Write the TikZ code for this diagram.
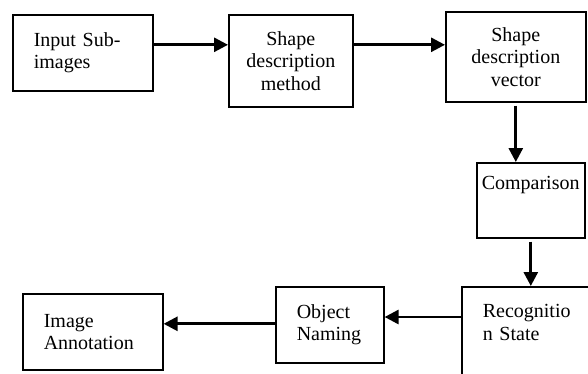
\documentclass[tikz,border=0pt]{standalone}
\usepackage{fontspec}
\setmainfont{Liberation Serif}
\usetikzlibrary{arrows.meta,positioning}

\begin{document}
\begin{tikzpicture}[x=1pt,y=-1pt,
  box/.style={draw,line width=1.6pt,font=\fontsize{20pt}{22.5pt}\selectfont,inner ysep=0pt,anchor=north west},
  arr/.style={line width=2.8pt,-{Triangle[length=14pt,width=14pt]}}]
  \clip (0,0) rectangle (588,373);
  \node[box,text width=98pt,inner xsep=21pt,minimum height=76pt,align=left] (input) at (12,14) {Input Sub-\\images};
  \node[box,text width=104pt,inner xsep=10pt,minimum height=92pt,align=center] (method) at (228,14) {Shape\\description\\method};
  \node[box,text width=120pt,inner xsep=10pt,minimum height=90pt,align=center] (vector) at (445,11) {Shape\\description\\vector};
  \node[box,text width=98pt,inner xsep=5pt,inner ysep=6pt,text height=21pt,text depth=42pt,align=left] (cmp) at (476,162) {Comparison};
  \node[box,text width=100pt,inner xsep=21pt,inner ysep=6pt,text height=25pt,text depth=77pt,align=left] (recog) at (461,286) {Recognitio\\n State};
  \node[box,text width=66pt,inner xsep=21pt,minimum height=76pt,align=left] (naming) at (275,286) {Object\\Naming};
  \node[box,text width=98pt,inner xsep=21pt,minimum height=76pt,align=left] (annot) at (22,293) {Image\\Annotation};

  \draw[arr] ([yshift=8pt]input.east) -- ([yshift=8pt]input.east -| method.west);
  \draw[arr] ([yshift=16pt]method.east) -- ([yshift=16pt]method.east -| vector.west);
  \draw[arr] ([yshift=-3pt]vector.south) -- (vector.south |- cmp.north);
  \draw[arr] ([yshift=-3pt]cmp.south) -- (cmp.south |- recog.north);
  \draw[arr] ([yshift=-31pt]recog.north west) -- ([yshift=-31pt]recog.north west -| naming.east);
  \draw[arr] ([yshift=1pt]naming.west) -- ([yshift=1pt]naming.west -| annot.east);
\end{tikzpicture}
\end{document}
